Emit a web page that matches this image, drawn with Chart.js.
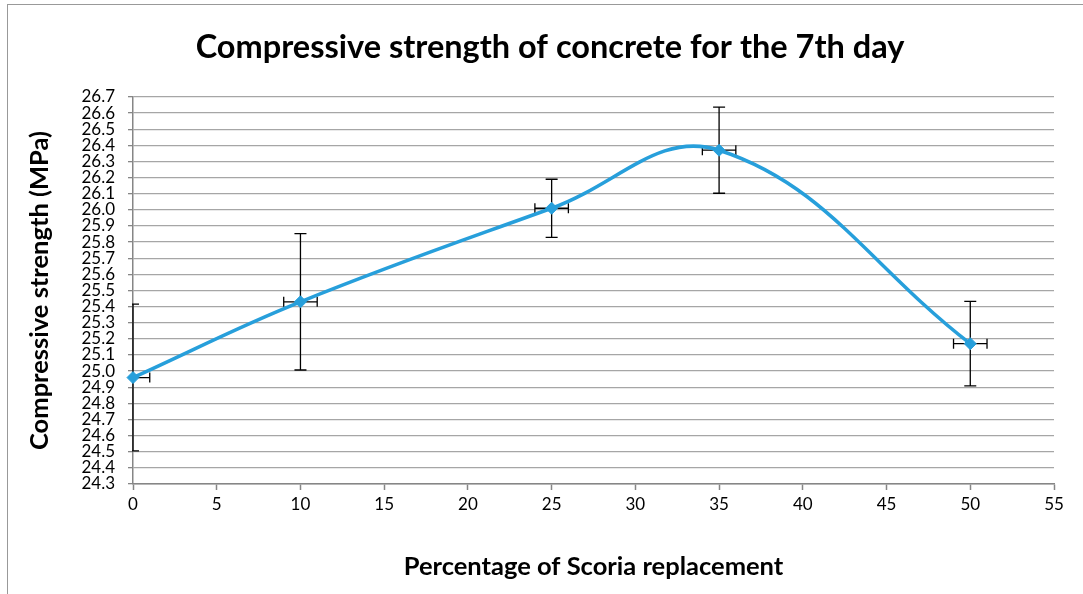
<!DOCTYPE html>
<html>
<head>
<meta charset="utf-8">
<script src="https://cdn.jsdelivr.net/npm/chart.js@4.4.1/dist/chart.umd.min.js"></script>
<style>
  html, body { margin: 0; padding: 0; background: #ffffff; }
  #wrap { position: relative; width: 1083px; height: 594px; overflow: hidden; }
  #frame { position: absolute; left: 7px; top: 4px; width: 1200px; height: 700px;
           border-left: 1px solid #999999; border-top: 1px solid #999999; }
  #c { position: absolute; left: 0; top: 0; }
</style>
</head>
<body>
<div id="wrap">
  <div id="frame"></div>
  <canvas id="c" width="1083" height="594"></canvas>
</div>
<script>
// ---- data ----
const titleText = 'Compressive strength of concrete for the 7th day';
const xTitle = 'Percentage of Scoria replacement';
const yTitle = 'Compressive strength (MPa)';

const scoriaPercent = [0, 10, 25, 35, 50];
const strength = [24.96, 25.43, 26.01, 26.37, 25.17];
const strengthErr = [0.455, 0.423, 0.18, 0.267, 0.262];
const percentErr = [1, 1, 1, 1, 1];

const xTickValues = [0, 5, 10, 15, 20, 25, 30, 35, 40, 45, 50, 55];
const yTickValues = [24.3, 24.4, 24.5, 24.6, 24.7, 24.8, 24.9, 25.0, 25.1, 25.2, 25.3, 25.4,
                     25.5, 25.6, 25.7, 25.8, 25.9, 26.0, 26.1, 26.2, 26.3, 26.4, 26.5, 26.6, 26.7];

// ---- styles ----
const lineColor = '#279fdb';
const gridColor = '#a6a6a6';
const axisColor = '#868686';
const fontFamily = 'Lato, "Open Sans", sans-serif';

const points = scoriaPercent.map((x, i) => ({ x: x, y: strength[i] }));

const errorBarPlugin = {
  id: 'errorBars',
  beforeDatasetsDraw(chart) {
    const ctx = chart.ctx;
    const xs = chart.scales.x, ys = chart.scales.y;
    const area = chart.chartArea;
    ctx.save();
    ctx.beginPath();
    ctx.rect(area.left - 1, area.top - 1, area.right - area.left + 2, area.bottom - area.top + 2);
    ctx.clip();
    ctx.strokeStyle = '#000000';
    ctx.lineWidth = 1.3;
    const capY = 6, capX = 5;
    scoriaPercent.forEach((xv, i) => {
      const px = xs.getPixelForValue(xv);
      const py = ys.getPixelForValue(strength[i]);
      const yTop = ys.getPixelForValue(strength[i] + strengthErr[i]);
      const yBot = ys.getPixelForValue(strength[i] - strengthErr[i]);
      const xL = xs.getPixelForValue(xv - percentErr[i]);
      const xR = xs.getPixelForValue(xv + percentErr[i]);
      ctx.beginPath();
      ctx.moveTo(px, yTop); ctx.lineTo(px, yBot);
      ctx.moveTo(px - capY, yTop); ctx.lineTo(px + capY, yTop);
      ctx.moveTo(px - capY, yBot); ctx.lineTo(px + capY, yBot);
      ctx.moveTo(xL, py); ctx.lineTo(xR, py);
      ctx.moveTo(xL, py - capX); ctx.lineTo(xL, py + capX);
      ctx.moveTo(xR, py - capX); ctx.lineTo(xR, py + capX);
      ctx.stroke();
    });
    ctx.restore();
  }
};

new Chart(document.getElementById('c'), {
  type: 'scatter',
  data: {
    datasets: [{
      data: points,
      showLine: true,
      borderColor: lineColor,
      backgroundColor: lineColor,
      borderWidth: 3.5,
      tension: 0.4,
      pointStyle: 'rectRot',
      pointRadius: 6,
      pointHoverRadius: 6,
      pointBorderWidth: 1,
      pointBorderColor: lineColor,
      clip: false
    }]
  },
  options: {
    responsive: false,
    animation: false,
    events: [],
    layout: { padding: { left: 46, right: 29, top: 0, bottom: 0 } },
    plugins: {
      legend: { display: false },
      tooltip: { enabled: false },
      title: {
        display: true,
        text: titleText,
        color: '#000000',
        font: { family: fontFamily, size: 32.5, weight: 'bold', lineHeight: 1.2 },
        padding: { top: 28.5, bottom: 29.5 }
      }
    },
    scales: {
      x: {
        type: 'linear',
        min: 0, max: 55,
        afterBuildTicks(scale) { scale.ticks = xTickValues.map(v => ({ value: v })); },
        afterFit(scale) { scale.height = 110; },
        ticks: {
          color: '#000000',
          font: { family: fontFamily, size: 17 },
          padding: 4,
          maxRotation: 0,
          autoSkip: false
        },
        grid: { drawOnChartArea: false, drawTicks: true, tickLength: 6, tickColor: axisColor, tickWidth: 1.5 },
        border: { display: true, color: axisColor, width: 1.5 },
        title: {
          display: true,
          text: xTitle,
          color: '#000000',
          font: { family: fontFamily, size: 25.5, weight: 'bold', lineHeight: 1.2 },
          padding: { top: 0, bottom: 11.7 }
        }
      },
      y: {
        type: 'linear',
        min: 24.3, max: 26.7,
        afterBuildTicks(scale) { scale.ticks = yTickValues.map(v => ({ value: v })); },
        afterFit(scale) { scale.width = 87; },
        ticks: {
          color: '#000000',
          font: { family: fontFamily, size: 17 },
          padding: 13,
          autoSkip: false,
          callback: (v) => Number(v).toFixed(1)
        },
        grid: { color: gridColor, lineWidth: 1.3, drawTicks: true, tickLength: 5, tickColor: axisColor },
        border: { display: true, color: axisColor, width: 1.5 },
        title: {
          display: true,
          text: yTitle,
          color: '#000000',
          font: { family: fontFamily, size: 25.5, weight: 'bold', lineHeight: 1.2 },
          padding: { top: -21.3, bottom: 0 }
        }
      }
    }
  },
  plugins: [errorBarPlugin]
});
</script>
</body>
</html>
